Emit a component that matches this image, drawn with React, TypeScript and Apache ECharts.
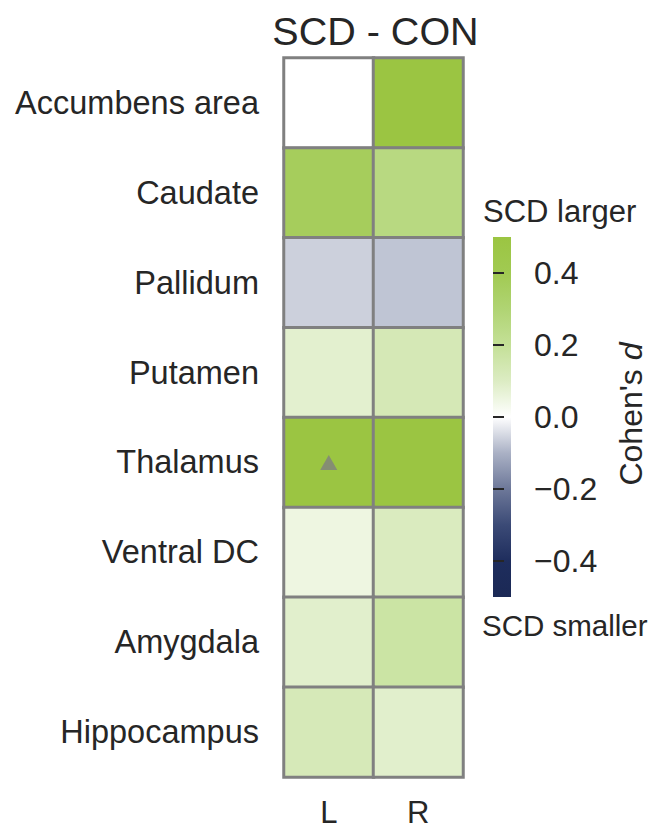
import React, { useEffect, useRef } from "react";
import * as echarts from "echarts";

const title = "SCD - CON";
const hemispheres = ["L", "R"];
const regions = [
  "Accumbens area",
  "Caudate",
  "Pallidum",
  "Putamen",
  "Thalamus",
  "Ventral DC",
  "Amygdala",
  "Hippocampus",
];
const leftValues = [0.0, 0.37, -0.06, 0.08, 0.5, 0.05, 0.085, 0.125];
const rightValues = [0.5, 0.26, -0.075, 0.13, 0.5, 0.11, 0.17, 0.085];
const markers = [{ hemisphere: "L", region: "Thalamus" }];
const colorTicks = [-0.4, -0.2, 0, 0.2, 0.4];
const colorMin = -0.5;
const colorMax = 0.5;
const colorStops = [
  "#1b2955",
  "#1e2d5d",
  "#3b4a76",
  "#6d7899",
  "#aab1c5",
  "#ffffff",
  "#dcecc3",
  "#c4e097",
  "#b0d473",
  "#a1ca52",
  "#9bc542",
];

const FONT = "'Liberation Sans', Arial, Helvetica, sans-serif";
const TEXT = "#262626";

export default function App() {
  const ref = useRef<HTMLDivElement>(null);
  useEffect(() => {
    if (!ref.current) return;
    const chart = echarts.init(ref.current, undefined, { renderer: "svg" });
    const data: any[] = [];
    regions.forEach((r, i) => {
      data.push([0, i, leftValues[i]]);
      data.push([1, i, rightValues[i]]);
    });
    const markerData = markers.map((m) => [m.hemisphere, m.region]);

    const gx = 284, gy = 58, gw = 179, gh = 719;
    const cbx = 493, cby = 237, cbw = 18, cbh = 360;

    chart.setOption({
      animation: false,
      backgroundColor: "#ffffff",
      textStyle: { fontFamily: FONT },
      grid: [
        { left: gx, top: gy, width: gw, height: gh },
        { left: cbx, top: cby, width: cbw, height: cbh },
      ],
      xAxis: [
        {
          type: "category",
          data: hemispheres,
          gridIndex: 0,
          position: "bottom",
          axisLine: { show: false },
          axisTick: { show: false },
          splitLine: { show: false },
          axisLabel: {
            fontSize: 31,
            color: TEXT,
            fontFamily: FONT,
            margin: 20,
            lineHeight: 31,
          },
        },
        { type: "value", gridIndex: 1, show: false, min: 0, max: 1 },
      ],
      yAxis: [
        {
          type: "category",
          data: regions,
          gridIndex: 0,
          inverse: true,
          axisLine: { show: false },
          axisTick: { show: false },
          splitLine: { show: false },
          axisLabel: { fontSize: 32.5, color: TEXT, fontFamily: FONT, margin: 25 },
        },
        {
          type: "value",
          gridIndex: 1,
          min: colorMin,
          max: colorMax,
          position: "right",
          axisLine: { show: false },
          splitLine: { show: false },
          axisTick: {
            show: true,
            length: 11,
            customValues: colorTicks,
            lineStyle: { color: TEXT, width: 2 },
          },
          axisLabel: {
            customValues: colorTicks,
            fontSize: 32,
            color: TEXT,
            fontFamily: FONT,
            margin: 23,
            formatter: (v: number) => v.toFixed(1).replace("-", "\u2212"),
          },
        },
      ],
      visualMap: {
        show: false,
        type: "continuous",
        min: colorMin,
        max: colorMax,
        seriesIndex: 0,
        dimension: 2,
        inRange: { color: colorStops },
      },
      graphic: [
        {
          type: "rect",
          shape: { x: cbx, y: cby, width: cbw, height: cbh },
          z: -1,
          style: {
            fill: new echarts.graphic.LinearGradient(
              0, 1, 0, 0,
              colorStops.map((c, i) => ({ offset: i / (colorStops.length - 1), color: c }))
            ),
          },
        },
        {
          type: "text",
          x: gx + gw / 2 + 2,
          y: 31,
          style: {
            text: title,
            fontSize: 39.5,
            fontFamily: FONT,
            fill: TEXT,
            align: "center",
            verticalAlign: "middle",
          },
        },
        {
          type: "text",
          x: 483,
          y: 211,
          style: {
            text: "SCD larger",
            fontSize: 31,
            fontFamily: FONT,
            fill: TEXT,
            align: "left",
            verticalAlign: "middle",
          },
        },
        {
          type: "text",
          x: 482,
          y: 625,
          style: {
            text: "SCD smaller",
            fontSize: 29.5,
            fontFamily: FONT,
            fill: TEXT,
            align: "left",
            verticalAlign: "middle",
          },
        },
        {
          type: "text",
          x: 631,
          y: 414,
          rotation: Math.PI / 2,
          style: {
            text: "Cohen's {i|d}",
            fontSize: 32,
            fontFamily: FONT,
            fill: TEXT,
            align: "center",
            verticalAlign: "middle",
            rich: {
              i: { fontStyle: "italic", fontSize: 32, fontFamily: FONT, fill: TEXT },
            },
          },
        },
      ],
      series: [
        {
          type: "heatmap",
          xAxisIndex: 0,
          yAxisIndex: 0,
          data,
          itemStyle: { borderColor: "#808080", borderWidth: 3 },
          emphasis: { disabled: true },
        },
        {
          type: "scatter",
          xAxisIndex: 0,
          yAxisIndex: 0,
          data: markerData,
          symbol: "triangle",
          symbolSize: [17, 15],
          itemStyle: { color: "#808080" },
          z: 5,
        },
      ],
    });
    return () => chart.dispose();
  }, []);
  return (
    <div
      ref={ref}
      style={{ position: "absolute", left: 0, top: 0, width: 651, height: 830 }}
    />
  );
}
